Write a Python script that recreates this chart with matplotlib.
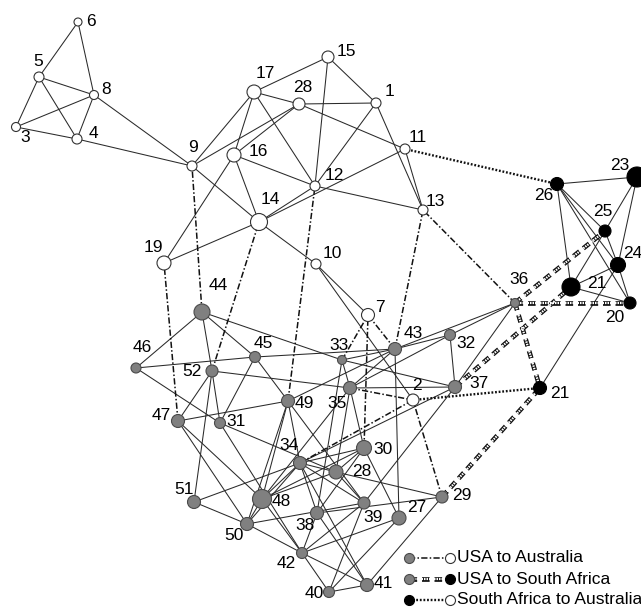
import numpy as np
import matplotlib.pyplot as plt

plt.rcParams['font.family'] = ['Liberation Sans', 'DejaVu Sans']
plt.rcParams['lines.scale_dashes'] = False

# Australian nodes (white)
au_ids = ['1', '2', '3', '4', '5', '6', '7', '8', '9', '10', '11', '12', '13',
          '14', '15', '16', '17', '19', '28']
au_x = [376, 413, 16, 77, 39, 78, 368, 94, 192, 316, 405, 315, 423,
        259, 328, 234, 254, 164, 299]
au_y = [103, 400, 127, 139, 77, 22, 315, 95, 166, 264, 149, 186, 210,
        222, 57, 155, 92, 263, 104]
au_r = [5, 6, 4.5, 5, 5, 4, 6.5, 4.5, 5, 5, 5, 5, 5,
        8.5, 6, 7, 7, 7, 6]

# South African nodes (black)
sa_ids = ['20', '21a', '21b', '23', '24', '25', '26']
sa_x = [630, 571, 540, 637, 618, 605, 557]
sa_y = [303, 287, 388, 177, 265, 231, 184]
sa_r = [6, 9, 6.5, 10, 7.5, 6, 6.5]

# USA nodes (grey)
us_ids = ['27', '28', '29', '30', '31', '32', '33', '34', '35', '36', '37', '38',
          '39', '40', '41', '42', '43', '44', '45', '46', '47', '48', '49', '50',
          '51', '52']
us_x = [399, 336, 442, 364, 220, 450, 342, 300, 350, 515, 455, 317,
        364, 329, 367, 302, 395, 202, 255, 136, 178, 262, 288, 247,
        194, 212]
us_y = [518, 472, 497, 448, 423, 335, 360, 463, 388, 303, 387, 513,
        503, 592, 585, 553, 349, 312, 357, 368, 421, 499, 401, 524,
        502, 371]
us_r = [7, 7, 6, 7.5, 5.5, 5.5, 4.5, 6.5, 6.5, 4.5, 6.5, 6.5,
        6, 5.5, 6.5, 5.5, 6.5, 8, 5.5, 5, 6.5, 9.5, 6.5, 6.5,
        6.5, 6]

au_edges = [('6', '5'), ('6', '8'), ('5', '8'), ('5', '3'), ('5', '4'), ('3', '8'),
            ('3', '4'), ('4', '8'), ('8', '9'), ('4', '9'), ('9', '17'), ('9', '28'),
            ('9', '14'), ('17', '15'), ('17', '28'), ('17', '16'), ('17', '12'),
            ('15', '1'), ('15', '12'), ('28', '1'), ('28', '11'), ('28', '16'),
            ('1', '12'), ('1', '13'), ('11', '13'), ('11', '14'), ('16', '19'),
            ('16', '12'), ('16', '14'), ('12', '14'), ('12', '13'), ('14', '19'),
            ('14', '10'), ('10', '7'), ('10', '2')]

sa_edges = [('26', '23'), ('26', '21a'), ('26', '25'), ('26', '24'), ('26', '20'),
            ('23', '25'), ('23', '24'), ('25', '21a'), ('25', '24'), ('24', '21a'),
            ('24', '20'), ('21a', '20'), ('24', '21b')]

us_edges = [('44', '46'), ('44', '52'), ('44', '45'), ('44', '33'),
            ('46', '45'), ('46', '31'), ('45', '31'), ('45', '49'), ('45', '43'),
            ('52', '47'), ('52', '31'), ('52', '51'), ('52', '35'),
            ('47', '49'), ('47', '48'), ('47', '50'), ('31', '28'), ('31', '42'),
            ('49', '48'), ('49', '50'), ('49', '34'), ('49', '39'), ('49', '43'),
            ('33', '43'), ('33', '37'), ('33', '38'), ('33', '35'),
            ('43', '32'), ('43', '36'), ('43', '27'), ('43', '35'),
            ('32', '36'), ('32', '37'), ('32', '35'), ('36', '37'),
            ('35', '37'), ('35', '30'), ('35', '28'), ('35', '48'),
            ('37', '34'), ('37', '39'), ('51', '34'), ('51', '50'),
            ('50', '48'), ('50', '39'), ('50', '42'), ('50', '34'),
            ('48', '34'), ('48', '30'), ('48', '42'), ('48', '28'),
            ('34', '30'), ('34', '28'), ('34', '38'), ('34', '39'), ('34', '41'),
            ('30', '28'), ('30', '38'), ('30', '27'), ('28', '39'), ('28', '29'),
            ('38', '42'), ('38', '41'), ('38', '29'), ('39', '42'), ('39', '40'),
            ('27', '42'), ('27', '40'), ('29', '41'), ('42', '40'), ('42', '41'),
            ('40', '41')]

# links between the three countries
us_au_links = [('44', '9'), ('47', '19'), ('52', '14'), ('49', '12'), ('43', '13'),
               ('36', '13'), ('33', '7'), ('43', '7'), ('30', '7'), ('35', '2'),
               ('34', '2'), ('29', '2')]
us_sa_links = [('36', '25'), ('36', '20'), ('36', '21b'), ('37', '21a'), ('29', '21b')]
sa_au_links = [('26', '11'), ('21b', '2')]

label_off = {
    ('A', '6'): (13, -1), ('A', '5'): (-1, -15), ('A', '8'): (12, -5),
    ('A', '3'): (9, 10), ('A', '4'): (16, -6), ('A', '9'): (1, -19),
    ('A', '15'): (18, -5), ('A', '17'): (11, -18), ('A', '28'): (4, -16),
    ('A', '1'): (13, -11), ('A', '11'): (13, -12), ('A', '16'): (24, -3),
    ('A', '12'): (19, -10), ('A', '13'): (12, -9), ('A', '14'): (11, -22),
    ('A', '10'): (16, -11), ('A', '19'): (-11, -16), ('A', '7'): (12, -8),
    ('A', '2'): (4, -15),
    ('S', '23'): (-17, -11), ('S', '26'): (-13, 12), ('S', '25'): (-2, -20),
    ('S', '24'): (15, -12), ('S', '21a'): (26, -3), ('S', '20'): (-15, 15),
    ('S', '21b'): (20, 5),
    ('U', '36'): (4, -23), ('U', '43'): (18, -16), ('U', '32'): (16, 9),
    ('U', '37'): (24, -3), ('U', '33'): (-3, -14), ('U', '35'): (-13, 15),
    ('U', '30'): (19, 1), ('U', '28'): (26, 0), ('U', '29'): (20, -1),
    ('U', '44'): (16, -26), ('U', '46'): (6, -20), ('U', '45'): (8, -14),
    ('U', '52'): (-20, 1), ('U', '49'): (16, 3), ('U', '47'): (-17, -6),
    ('U', '31'): (16, -2), ('U', '34'): (-11, -18), ('U', '51'): (-10, -12),
    ('U', '48'): (19, 2), ('U', '50'): (-13, 11), ('U', '38'): (-12, 12),
    ('U', '39'): (9, 14), ('U', '27'): (18, -10), ('U', '42'): (-16, 10),
    ('U', '40'): (-15, 1), ('U', '41'): (16, -1),
}

pos = {}
for g, ids, xs, ys in [('A', au_ids, au_x, au_y), ('S', sa_ids, sa_x, sa_y),
                       ('U', us_ids, us_x, us_y)]:
    for i, x, y in zip(ids, xs, ys):
        pos[(g, i)] = (x, y)

fig = plt.figure(figsize=(6.41, 6.11), dpi=100)
ax = fig.add_axes([0, 0, 1, 1])
ax.set_xlim(0, 641)
ax.set_ylim(611, 0)
ax.axis('off')

FS = 12.5
solid = dict(color='#2a2a2a', lw=0.75, zorder=1)
dashdot = dict(color='#111111', lw=1.1, dashes=(4.5, 1.6, 1.1, 1.6), zorder=2)
dotted = dict(color='#111111', lw=1.7, dashes=(1.3, 1.3), zorder=2)


def seg(p, q, **kw):
    ax.plot([p[0], q[0]], [p[1], q[1]], solid_capstyle='butt',
            dash_capstyle='butt', **kw)


def striped(p, q):
    seg(p, q, color='#111111', lw=3.4, dashes=(5.5, 3.5), zorder=2)
    seg(p, q, color='white', lw=1.6, dashes=(1.1, 0.7), zorder=2.1)


for g, edges in [('A', au_edges), ('S', sa_edges), ('U', us_edges)]:
    for a, b in edges:
        seg(pos[(g, a)], pos[(g, b)], **solid)

for a, b in us_au_links:
    seg(pos[('U', a)], pos[('A', b)], **dashdot)
for a, b in sa_au_links:
    seg(pos[('S', a)], pos[('A', b)], **dotted)
for a, b in us_sa_links:
    striped(pos[('U', a)], pos[('S', b)])

# nodes: radius in pixels -> marker area in points^2
def node_size(r):
    return (np.array(r) * 2 * 72 / 100) ** 2

ax.scatter(au_x, au_y, s=node_size(au_r), c='white', edgecolors='#333333',
           linewidths=0.8, zorder=3)
ax.scatter(sa_x, sa_y, s=node_size(sa_r), c='black', edgecolors='black',
           linewidths=0.8, zorder=3)
ax.scatter(us_x, us_y, s=node_size(us_r), c='#808080', edgecolors='#4a4a4a',
           linewidths=0.8, zorder=3)

for (g, i), (x, y) in pos.items():
    dx, dy = label_off[(g, i)]
    ax.text(x + dx, y + dy, i.rstrip('ab'), fontsize=FS, ha='center',
            va='center', zorder=4)

# legend
lx0, lx1, tx = 409, 450, 457
rows = [558, 579, 600]
grey = dict(c='#808080', edgecolors='#4a4a4a', linewidths=0.8, zorder=5)
white = dict(c='white', edgecolors='#333333', linewidths=0.8, zorder=5)
black = dict(c='black', edgecolors='black', linewidths=0.8, zorder=5)
ms = node_size(5)

seg((lx0, rows[0]), (lx1, rows[0]), **dashdot)
ax.scatter([lx0], [rows[0]], s=ms, **grey)
ax.scatter([lx1], [rows[0]], s=ms, **white)
ax.text(tx, rows[0], 'USA to Australia', fontsize=FS, va='center')

striped((lx0, rows[1]), (lx1, rows[1]))
ax.scatter([lx0], [rows[1]], s=ms, **grey)
ax.scatter([lx1], [rows[1]], s=ms, **black)
ax.text(tx, rows[1], 'USA to South Africa', fontsize=FS, va='center')

seg((lx0, rows[2]), (lx1, rows[2]), **dotted)
ax.scatter([lx0], [rows[2]], s=ms, **black)
ax.scatter([lx1], [rows[2]], s=ms, **white)
ax.text(tx, rows[2], 'South Africa to Australia', fontsize=FS, va='center')

fig.savefig('out.png', dpi=100)
